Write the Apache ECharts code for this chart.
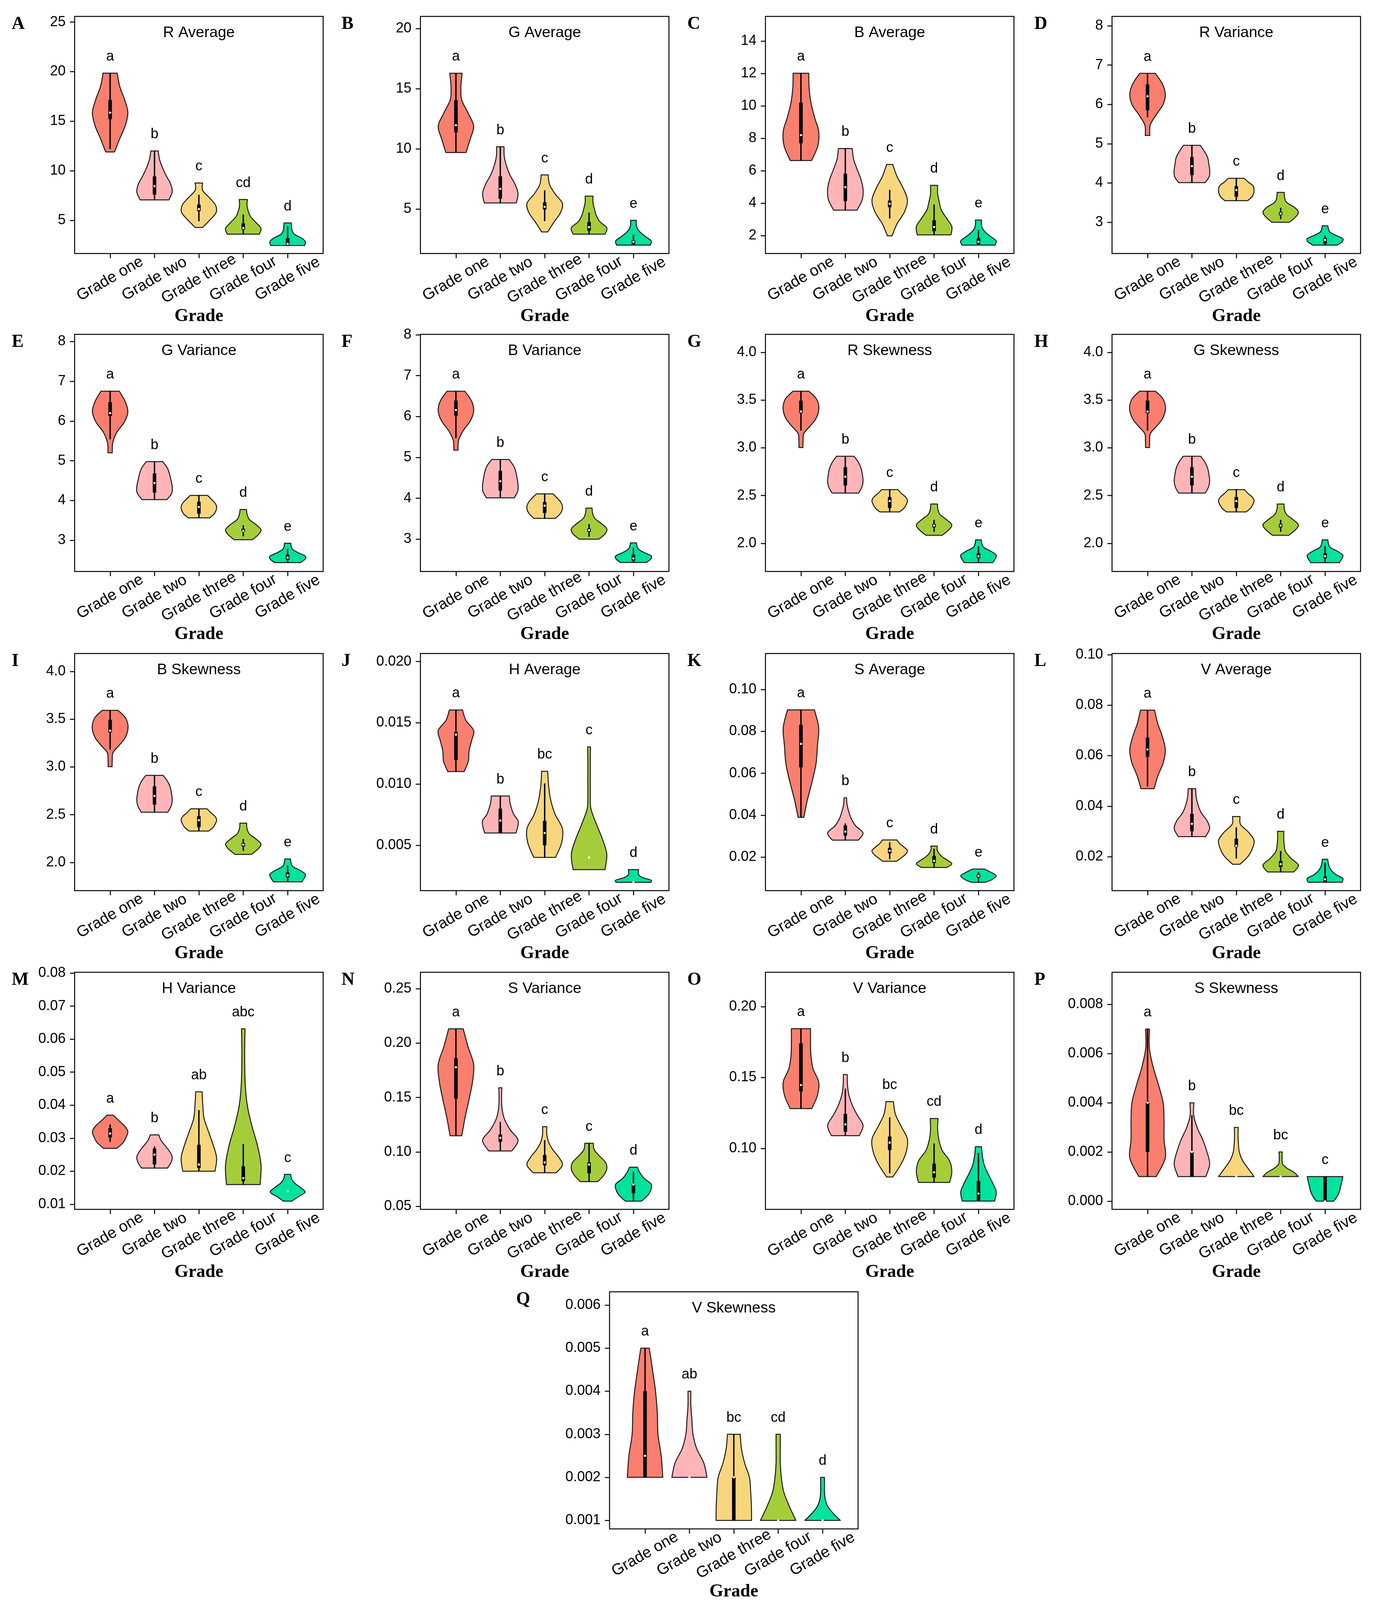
<!DOCTYPE html>
<html>
<head>
<meta charset="utf-8">
<title>Grade violin plots</title>
<script src="https://cdn.jsdelivr.net/npm/echarts@6/dist/echarts.min.js"></script>
<style>
  html, body { margin: 0; padding: 0; background: #fff; }
  #chart { width: 3519px; height: 4130px; }
</style>
</head>
<body>
<div id="chart"></div>
<script>
/**
 * 17 个小提琴图面板（A–Q），按年级分组
 * 每个小提琴：span = [下端, 上端]，shape = 等间距高度处的相对半宽，box = [须下, Q1, 中位数, Q3, 须上]
 */

const GRADES = ['Grade one', 'Grade two', 'Grade three', 'Grade four', 'Grade five']
const GRADE_COLORS = ['#FA7F6E', '#FFB5B8', '#F8D67E', '#A5CD3A', '#00E29E']

const PANEL_LETTERS = ['A', 'B', 'C', 'D', 'E', 'F', 'G', 'H', 'I', 'J', 'K', 'L', 'M', 'N', 'O', 'P', 'Q']
const PANEL_TITLES = [
  'R Average', 'G Average', 'B Average', 'R Variance',
  'G Variance', 'B Variance', 'R Skewness', 'G Skewness',
  'B Skewness', 'H Average', 'S Average', 'V Average',
  'H Variance', 'S Variance', 'V Variance', 'S Skewness',
  'V Skewness'
]

const Y_RANGES = [
  [1.65, 25.58], [1.30, 21.0], [0.89, 15.53], [2.205, 8.24],
  [2.216, 8.18], [2.21, 8.01], [1.706, 4.187], [1.706, 4.187],
  [1.706, 4.187], [0.001293, 0.02066], [0.00396, 0.1172], [0.006539, 0.10048],
  [0.00846, 0.08024], [0.04727, 0.2651], [0.057, 0.2242], [-0.000334, 0.00931],
  [0.000802, 0.00631]
]

const Y_TICKS = [
  ['5', '10', '15', '20', '25'],
  ['5', '10', '15', '20'],
  ['2', '4', '6', '8', '10', '12', '14'],
  ['3', '4', '5', '6', '7', '8'],
  ['3', '4', '5', '6', '7', '8'],
  ['3', '4', '5', '6', '7', '8'],
  ['2.0', '2.5', '3.0', '3.5', '4.0'],
  ['2.0', '2.5', '3.0', '3.5', '4.0'],
  ['2.0', '2.5', '3.0', '3.5', '4.0'],
  ['0.005', '0.010', '0.015', '0.020'],
  ['0.02', '0.04', '0.06', '0.08', '0.10'],
  ['0.02', '0.04', '0.06', '0.08', '0.10'],
  ['0.01', '0.02', '0.03', '0.04', '0.05', '0.06', '0.07', '0.08'],
  ['0.05', '0.10', '0.15', '0.20', '0.25'],
  ['0.10', '0.15', '0.20'],
  ['0.000', '0.002', '0.004', '0.006', '0.008'],
  ['0.001', '0.002', '0.003', '0.004', '0.005', '0.006']
]

const SIG_LETTERS = [
  ['a', 'b', 'c', 'cd', 'd'],
  ['a', 'b', 'c', 'd', 'e'],
  ['a', 'b', 'c', 'd', 'e'],
  ['a', 'b', 'c', 'd', 'e'],
  ['a', 'b', 'c', 'd', 'e'],
  ['a', 'b', 'c', 'd', 'e'],
  ['a', 'b', 'c', 'd', 'e'],
  ['a', 'b', 'c', 'd', 'e'],
  ['a', 'b', 'c', 'd', 'e'],
  ['a', 'b', 'bc', 'c', 'd'],
  ['a', 'b', 'c', 'd', 'e'],
  ['a', 'b', 'c', 'd', 'e'],
  ['a', 'b', 'ab', 'abc', 'c'],
  ['a', 'b', 'c', 'c', 'd'],
  ['a', 'b', 'bc', 'cd', 'd'],
  ['a', 'b', 'bc', 'bc', 'c'],
  ['a', 'ab', 'bc', 'cd', 'd']
]

// A  R Average
const spansA = [[11.9, 19.85], [7.06, 12.0], [4.28, 8.77], [3.6, 7.1], [2.46, 4.73]]
const shapesA = [
  [0.25, 0.54, 0.85, 1.0, 0.81, 0.54, 0.4],
  [0.81, 1.0, 0.9, 0.65, 0.44, 0.28, 0.21],
  [0.21, 0.62, 0.97, 0.94, 0.6, 0.21, 0.21],
  [0.9, 1.0, 0.72, 0.42, 0.28, 0.21, 0.23],
  [0.95, 1.0, 0.78, 0.38, 0.25, 0.22, 0.2]
]
const boxesA = [[12.2, 15.2, 15.87, 17.16, 19.85], [7.06, 7.58, 8.44, 9.43, 12.0], [4.9, 5.93, 6.13, 6.59, 7.58], [3.6, 4.07, 4.22, 4.69, 5.58], [2.46, 2.53, 2.63, 3.19, 4.39]]

// B  G Average
const spansB = [[9.69, 16.28], [5.5, 10.17], [3.09, 7.83], [2.91, 6.07], [2.0, 4.06]]
const shapesB = [
  [0.57, 0.8, 1.0, 0.68, 0.32, 0.28, 0.35],
  [0.9, 1.0, 0.83, 0.54, 0.34, 0.22, 0.21],
  [0.17, 0.51, 0.88, 1.0, 0.59, 0.27, 0.2],
  [0.9, 1.0, 0.6, 0.4, 0.3, 0.22, 0.22],
  [0.95, 1.0, 0.7, 0.41, 0.22, 0.16, 0.16]
]
const boxesB = [[9.69, 11.36, 11.96, 14.04, 16.28], [5.5, 5.85, 6.67, 7.71, 10.17], [3.99, 4.95, 5.18, 5.55, 6.55], [2.91, 3.19, 3.5, 3.91, 4.71], [2.0, 2.05, 2.27, 2.39, 2.87]]

// C  B Average
const spansC = [[6.63, 12.02], [3.57, 7.37], [1.98, 6.39], [2.04, 5.1], [1.41, 2.96]]
const shapesC = [
  [0.6, 0.95, 1.0, 0.76, 0.56, 0.46, 0.44],
  [0.66, 0.95, 1.0, 0.88, 0.66, 0.46, 0.39],
  [0.13, 0.41, 0.83, 1.0, 0.76, 0.41, 0.17],
  [0.95, 1.0, 0.71, 0.41, 0.29, 0.2, 0.2],
  [0.93, 1.0, 0.7, 0.41, 0.22, 0.17, 0.17]
]
const boxesC = [[6.63, 7.7, 8.2, 10.21, 12.02], [3.57, 4.13, 4.99, 5.82, 7.37], [3.05, 3.75, 3.96, 4.16, 4.82], [2.04, 2.27, 2.53, 2.94, 3.92], [1.41, 1.45, 1.61, 1.83, 2.33]]

// D  R Variance
const spansD = [[5.21, 6.79], [4.01, 4.96], [3.55, 4.12], [3.0, 3.76], [2.42, 2.91]]
const shapesD = [
  [0.13, 0.15, 0.49, 0.88, 1.0, 0.83, 0.44],
  [0.75, 0.98, 1.0, 0.95, 0.89, 0.71, 0.47],
  [0.64, 0.88, 0.98, 1.0, 0.94, 0.67, 0.45],
  [0.49, 0.82, 1.0, 0.78, 0.34, 0.22, 0.2],
  [0.69, 0.96, 1.0, 0.62, 0.28, 0.19, 0.16]
]
const boxesD = [[5.67, 5.85, 6.21, 6.51, 6.79], [4.01, 4.2, 4.43, 4.66, 4.96], [3.55, 3.65, 3.82, 3.92, 4.12], [3.08, 3.18, 3.22, 3.26, 3.37], [2.42, 2.45, 2.55, 2.6, 2.66]]

// E  G Variance
const spansE = [[5.2, 6.75], [4.025, 4.98], [3.565, 4.13], [3.015, 3.775], [2.44, 2.925]]
const shapesE = [
  [0.12, 0.15, 0.38, 0.8, 1.0, 0.85, 0.52],
  [0.7, 0.97, 1.0, 0.93, 0.85, 0.72, 0.46],
  [0.6, 0.85, 0.97, 1.0, 0.9, 0.7, 0.49],
  [0.51, 0.85, 1.0, 0.72, 0.35, 0.22, 0.18],
  [0.73, 0.97, 1.0, 0.62, 0.3, 0.2, 0.18]
]
const boxesE = [[5.54, 6.125, 6.2, 6.48, 6.75], [4.025, 4.2, 4.44, 4.68, 4.98], [3.565, 3.67, 3.84, 3.97, 4.13], [3.1, 3.215, 3.24, 3.29, 3.38], [2.44, 2.515, 2.565, 2.64, 2.79]]

// F  B Variance
const spansF = [[5.18, 6.62], [4.01, 4.95], [3.51, 4.11], [3.0, 3.76], [2.43, 2.91]]
const shapesF = [
  [0.12, 0.15, 0.42, 0.82, 1.0, 0.88, 0.5],
  [0.78, 0.98, 1.0, 0.95, 0.88, 0.75, 0.49],
  [0.61, 0.85, 0.98, 1.0, 0.9, 0.7, 0.46],
  [0.55, 0.9, 1.0, 0.7, 0.33, 0.2, 0.17],
  [0.73, 0.97, 1.0, 0.62, 0.3, 0.2, 0.17]
]
const boxesF = [[5.47, 6.02, 6.16, 6.39, 6.62], [4.01, 4.19, 4.42, 4.67, 4.95], [3.51, 3.64, 3.82, 3.91, 4.11], [3.06, 3.18, 3.22, 3.26, 3.37], [2.43, 2.47, 2.53, 2.62, 2.79]]

// G  R Skewness
const spansG = [[3.003, 3.592], [2.527, 2.912], [2.329, 2.562], [2.085, 2.412], [1.798, 2.037]]
const shapesG = [
  [0.11, 0.12, 0.16, 0.5, 0.82, 0.98, 1.0, 0.85, 0.45],
  [0.75, 0.94, 1.0, 0.96, 0.89, 0.74, 0.49],
  [0.55, 0.8, 0.93, 1.0, 0.9, 0.66, 0.46],
  [0.46, 0.82, 1.0, 0.7, 0.33, 0.21, 0.19],
  [0.8, 0.94, 1.0, 0.7, 0.3, 0.19, 0.16]
]
const boxesG = [[3.18, 3.363, 3.38, 3.494, 3.592], [2.527, 2.606, 2.697, 2.797, 2.912], [2.329, 2.37, 2.443, 2.485, 2.562], [2.121, 2.168, 2.187, 2.204, 2.246], [1.798, 1.844, 1.865, 1.898, 1.969]]

// H  G Skewness
const spansH = [[3.003, 3.592], [2.527, 2.912], [2.329, 2.562], [2.085, 2.412], [1.798, 2.037]]
const shapesH = [
  [0.11, 0.12, 0.16, 0.5, 0.82, 0.98, 1.0, 0.85, 0.45],
  [0.75, 0.94, 1.0, 0.96, 0.89, 0.74, 0.49],
  [0.55, 0.8, 0.93, 1.0, 0.9, 0.66, 0.46],
  [0.46, 0.82, 1.0, 0.7, 0.33, 0.21, 0.19],
  [0.8, 0.94, 1.0, 0.7, 0.3, 0.19, 0.16]
]
const boxesH = [[3.18, 3.363, 3.38, 3.494, 3.592], [2.527, 2.606, 2.697, 2.797, 2.912], [2.329, 2.37, 2.443, 2.485, 2.562], [2.121, 2.168, 2.187, 2.204, 2.246], [1.798, 1.844, 1.865, 1.898, 1.969]]

// I  B Skewness
const spansI = [[3.003, 3.592], [2.527, 2.912], [2.329, 2.562], [2.085, 2.412], [1.798, 2.037]]
const shapesI = [
  [0.11, 0.12, 0.16, 0.5, 0.82, 0.98, 1.0, 0.85, 0.45],
  [0.75, 0.94, 1.0, 0.96, 0.89, 0.74, 0.49],
  [0.55, 0.8, 0.93, 1.0, 0.9, 0.66, 0.46],
  [0.46, 0.82, 1.0, 0.7, 0.33, 0.21, 0.19],
  [0.8, 0.94, 1.0, 0.7, 0.3, 0.19, 0.16]
]
const boxesI = [[3.18, 3.363, 3.38, 3.494, 3.592], [2.527, 2.606, 2.697, 2.797, 2.912], [2.329, 2.37, 2.443, 2.485, 2.562], [2.121, 2.168, 2.187, 2.204, 2.246], [1.798, 1.844, 1.865, 1.898, 1.969]]

// J  H Average
const spansJ = [[0.011015, 0.016048], [0.006, 0.009024], [0.004006, 0.011043], [0.003011, 0.013034], [0.001973, 0.003011]]
const shapesJ = [
  [0.46, 0.7, 0.74, 0.88, 1.0, 0.56, 0.37],
  [0.88, 0.98, 1.0, 0.76, 0.63, 0.54, 0.51],
  [0.61, 0.95, 1.0, 0.59, 0.34, 0.22, 0.17],
  [0.9, 1.0, 0.75, 0.4, 0.1, 0.07, 0.07, 0.07, 0.08],
  [0.98, 1.0, 0.6, 0.35, 0.27, 0.27, 0.29]
]
const boxesJ = [[0.011015, 0.01197, 0.01403, 0.01427, 0.016048], [0.006, 0.006, 0.00702, 0.007987, 0.009024], [0.004006, 0.005, 0.006, 0.006991, 0.01005], [0.004, 0.004, 0.004, 0.004, 0.004], [0.002, 0.002, 0.002, 0.002, 0.002]]

// K  S Average
const spansK = [[0.03896, 0.09027], [0.02807, 0.04827], [0.018, 0.02815], [0.01501, 0.02524], [0.00794, 0.01426]]
const shapesK = [
  [0.16, 0.37, 0.63, 0.85, 0.93, 1.0, 0.76],
  [0.73, 1.0, 0.59, 0.34, 0.2, 0.1, 0.07],
  [0.39, 0.66, 0.9, 1.0, 0.8, 0.56, 0.41],
  [0.71, 1.0, 0.76, 0.46, 0.27, 0.17, 0.18],
  [0.39, 0.71, 0.9, 1.0, 0.83, 0.59, 0.34]
]
const boxesK = [[0.03896, 0.06283, 0.07405, 0.0832, 0.09027], [0.02807, 0.03023, 0.03214, 0.03505, 0.03605], [0.019, 0.02175, 0.023, 0.02441, 0.02707], [0.01526, 0.01725, 0.01817, 0.02058, 0.024], [0.0082, 0.01026, 0.01098, 0.01181, 0.0128]]

// L  V Average
const spansL = [[0.04695, 0.07803], [0.02795, 0.04695], [0.017, 0.03589], [0.01393, 0.03002], [0.00985, 0.01897]]
const shapesL = [
  [0.37, 0.59, 0.89, 1.0, 0.83, 0.57, 0.4],
  [0.77, 1.0, 0.85, 0.52, 0.34, 0.24, 0.21],
  [0.21, 0.67, 0.91, 1.0, 0.7, 0.24, 0.21],
  [0.74, 1.0, 0.59, 0.28, 0.2, 0.17, 0.18],
  [0.96, 1.0, 0.61, 0.37, 0.24, 0.18, 0.15]
]
const boxesL = [[0.04778, 0.05952, 0.06249, 0.06719, 0.07803], [0.02795, 0.03002, 0.033, 0.03693, 0.04695], [0.01931, 0.02381, 0.02429, 0.02712, 0.03161], [0.01393, 0.01586, 0.01704, 0.01828, 0.02222], [0.00985, 0.00985, 0.01103, 0.01218, 0.01759]]

// M  H Variance
const spansM = [[0.02695, 0.03698], [0.02098, 0.03101], [0.02003, 0.04405], [0.01597, 0.06311], [0.01095, 0.01903]]
const shapesM = [
  [0.38, 0.73, 0.9, 1.0, 0.83, 0.49, 0.18],
  [0.73, 0.93, 1.0, 0.85, 0.61, 0.37, 0.24],
  [0.91, 1.0, 0.8, 0.54, 0.29, 0.22, 0.18],
  [0.95, 1.0, 0.8, 0.49, 0.24, 0.12, 0.085, 0.08, 0.1],
  [0.24, 0.6, 0.98, 0.75, 0.41, 0.22, 0.18]
]
const boxesM = [[0.0289, 0.03022, 0.03143, 0.03302, 0.03418], [0.02098, 0.02204, 0.02505, 0.02689, 0.0275], [0.02003, 0.02098, 0.02204, 0.028, 0.03851], [0.01597, 0.01702, 0.01792, 0.02151, 0.02827], [0.01396, 0.01396, 0.01396, 0.01396, 0.01396]]

// N  S Variance
const spansN = [[0.1149, 0.21314], [0.10096, 0.15897], [0.08093, 0.12324], [0.07275, 0.10801], [0.0548, 0.08605]]
const shapesN = [
  [0.33, 0.51, 0.73, 0.93, 1.0, 0.68, 0.41],
  [0.65, 1.0, 0.56, 0.24, 0.1, 0.07, 0.085],
  [0.65, 1.0, 0.8, 0.46, 0.22, 0.12, 0.12],
  [0.49, 0.83, 1.0, 0.93, 0.59, 0.29, 0.24],
  [0.45, 0.8, 0.98, 1.0, 0.61, 0.37, 0.22]
]
const boxesN = [[0.1149, 0.14904, 0.17788, 0.18622, 0.21314], [0.10096, 0.1093, 0.11298, 0.116, 0.12772], [0.08093, 0.08766, 0.09038, 0.09727, 0.1109], [0.07275, 0.08045, 0.08846, 0.09038, 0.10801], [0.0548, 0.06201, 0.07, 0.07003, 0.08205]]

// O  V Variance
const spansO = [[0.12805, 0.18438], [0.10898, 0.15203], [0.07983, 0.13297], [0.07602, 0.12103], [0.06286, 0.10123]]
const shapesO = [
  [0.61, 0.93, 1.0, 0.68, 0.56, 0.54, 0.54],
  [0.79, 1.0, 0.68, 0.39, 0.2, 0.12, 0.11],
  [0.17, 0.63, 0.93, 1.0, 0.66, 0.32, 0.21],
  [0.88, 1.0, 0.88, 0.46, 0.27, 0.2, 0.22],
  [0.91, 1.0, 0.8, 0.54, 0.32, 0.22, 0.17]
]
const boxesO = [[0.12805, 0.1401, 0.14465, 0.17417, 0.18438], [0.10898, 0.11169, 0.11698, 0.12436, 0.14219], [0.08254, 0.09877, 0.10406, 0.10837, 0.1219], [0.07602, 0.07946, 0.08315, 0.0893, 0.10345], [0.06286, 0.06347, 0.06814, 0.077, 0.09668]]

// P  S Skewness
const spansP = [[0.001, 0.007], [0.001, 0.004], [0.001, 0.003], [0.001, 0.002], [0.0, 0.001]]
const shapesP = [
  [0.49, 1.0, 0.93, 0.93, 0.88, 0.61, 0.3, 0.1, 0.11],
  [0.78, 1.0, 0.85, 0.61, 0.29, 0.1, 0.11],
  [1.0, 0.66, 0.34, 0.17, 0.12, 0.1, 0.11],
  [1.0, 0.76, 0.37, 0.12, 0.08, 0.08, 0.09],
  [0.49, 0.66, 0.78, 0.85, 0.9, 0.96, 1.0]
]
const boxesP = [[0.001, 0.002, 0.004, 0.004, 0.007], [0.001, 0.001, 0.002, 0.002, 0.0035], [0.001, 0.001, 0.001, 0.001, 0.001], [0.001, 0.001, 0.001, 0.001, 0.001], [0.0, 0.0, 0.0, 0.001, 0.001]]

// Q  V Skewness
const spansQ = [[0.002, 0.005], [0.002, 0.004], [0.001, 0.003], [0.001, 0.003], [0.001, 0.002]]
const shapesQ = [
  [1.0, 0.91, 0.73, 0.69, 0.59, 0.42, 0.24],
  [0.99, 0.81, 0.41, 0.2, 0.14, 0.08, 0.08],
  [1.0, 0.99, 0.95, 0.88, 0.61, 0.43, 0.36],
  [1.0, 0.62, 0.31, 0.18, 0.12, 0.12, 0.12],
  [1.0, 0.59, 0.28, 0.15, 0.11, 0.11, 0.11]
]
const boxesQ = [[0.002, 0.002, 0.0025, 0.004, 0.005], [0.002, 0.002, 0.002, 0.002, 0.002], [0.001, 0.001, 0.002, 0.002, 0.003], [0.001, 0.001, 0.001, 0.001, 0.001], [0.001, 0.001, 0.001, 0.001, 0.001]]

const SPANS = [spansA, spansB, spansC, spansD, spansE, spansF, spansG, spansH, spansI, spansJ, spansK, spansL, spansM, spansN, spansO, spansP, spansQ]
const SHAPES = [shapesA, shapesB, shapesC, shapesD, shapesE, shapesF, shapesG, shapesH, shapesI, shapesJ, shapesK, shapesL, shapesM, shapesN, shapesO, shapesP, shapesQ]
const BOXES = [boxesA, boxesB, boxesC, boxesD, boxesE, boxesF, boxesG, boxesH, boxesI, boxesJ, boxesK, boxesL, boxesM, boxesN, boxesO, boxesP, boxesQ]

// 版面（像素）
const COL_LEFT = [191, 1076, 1959, 2846]
const ROW_TOP = [42, 856, 1673, 2489]
const LETTER_X = [30, 874, 1759, 2647]
const BOX_W = 636
const BOX_H = 607
const Q_LEFT = 1560
const Q_TOP = 3307
const Q_LETTER_X = 1321

const SANS = 'Arial, "Liberation Sans", sans-serif'
const SERIF = '"Times New Roman", "Liberation Serif", serif'
const VIOLIN_HALF = 0.4

/** 面板位置 */
function panelBox(i) {
  if (i === 16) return { left: Q_LEFT, top: Q_TOP, letterX: Q_LETTER_X }
  return { left: COL_LEFT[i % 4], top: ROW_TOP[Math.floor(i / 4)], letterX: LETTER_X[i % 4] }
}

/** Catmull-Rom 转三次贝塞尔，画小提琴一侧的轮廓 */
function sideCurve(pts) {
  let d = ''
  for (let k = 0; k < pts.length - 1; k++) {
    const p0 = pts[Math.max(k - 1, 0)]
    const p1 = pts[k]
    const p2 = pts[k + 1]
    const p3 = pts[Math.min(k + 2, pts.length - 1)]
    const c1x = p1[0] + (p2[0] - p0[0]) / 6
    const c1y = p1[1] + (p2[1] - p0[1]) / 6
    const c2x = p2[0] - (p3[0] - p1[0]) / 6
    const c2y = p2[1] - (p3[1] - p1[1]) / 6
    d += ' C' + c1x.toFixed(2) + ',' + c1y.toFixed(2) + ' ' + c2x.toFixed(2) + ',' + c2y.toFixed(2) + ' ' + p2[0].toFixed(2) + ',' + p2[1].toFixed(2)
  }
  return d
}

/** 每个面板的 renderItem */
function makeViolinRenderer(panelIndex) {
  const spans = SPANS[panelIndex]
  const shapes = SHAPES[panelIndex]
  const boxes = BOXES[panelIndex]
  const sig = SIG_LETTERS[panelIndex]

  return function (params, api) {
    const g = api.value(0)
    const span = spans[g]
    const shape = shapes[g]
    const box = boxes[g]
    const n = shape.length

    const base = api.coord([g, span[0]])
    const cx = base[0]
    const half = api.coord([g + VIOLIN_HALF, span[0]])[0] - cx

    const right = []
    const left = []
    for (let k = 0; k < n; k++) {
      const level = span[0] + (span[1] - span[0]) * k / (n - 1)
      const y = api.coord([g, level])[1]
      right.push([cx + half * shape[k], y])
      left.push([cx - half * shape[k], y])
    }
    left.reverse()

    const d = 'M' + right[0][0].toFixed(2) + ',' + right[0][1].toFixed(2) +
      sideCurve(right) +
      ' L' + left[0][0].toFixed(2) + ',' + left[0][1].toFixed(2) +
      sideCurve(left) + ' Z'

    const children = [{
      type: 'path',
      shape: { pathData: d },
      style: { fill: GRADE_COLORS[g], stroke: '#1a1a1a', lineWidth: 2.5, lineJoin: 'round' }
    }]

    const yLo = api.coord([g, box[0]])[1]
    const yQ1 = api.coord([g, box[1]])[1]
    const yMed = api.coord([g, box[2]])[1]
    const yQ3 = api.coord([g, box[3]])[1]
    const yHi = api.coord([g, box[4]])[1]

    if (box[4] > box[0]) {
      children.push({
        type: 'line',
        shape: { x1: cx, y1: yLo, x2: cx, y2: yHi },
        style: { stroke: '#000', lineWidth: 3.5 }
      })
    }
    if (box[3] > box[1]) {
      children.push({
        type: 'rect',
        shape: { x: cx - 4.5, y: yQ3, width: 9, height: yQ1 - yQ3 },
        style: { fill: '#000' }
      })
    }
    children.push({
      type: 'circle',
      shape: { cx: cx, cy: yMed, r: 2.8 },
      style: { fill: '#fff' }
    })

    const yTop = api.coord([g, span[1]])[1]
    children.push({
      type: 'text',
      x: cx,
      y: yTop - 42,
      style: {
        text: sig[g],
        fontSize: 36,
        fontFamily: SANS,
        fill: '#000',
        align: 'center',
        verticalAlign: 'middle'
      }
    })

    return { type: 'group', children: children }
  }
}

const grids = []
const xAxes = []
const yAxes = []
const series = []
const texts = []

PANEL_TITLES.forEach(function (title, i) {
  const pos = panelBox(i)
  const tickNums = Y_TICKS[i].map(Number)

  grids.push({
    left: pos.left,
    top: pos.top,
    width: BOX_W,
    height: BOX_H,
    show: true,
    backgroundColor: '#fff',
    borderColor: '#000',
    borderWidth: 2.5,
    containLabel: false,
    outerBoundsMode: 'none'
  })

  xAxes.push({
    gridIndex: i,
    type: 'value',
    position: 'bottom',
    min: -0.8,
    max: 4.8,
    name: 'Grade',
    nameLocation: 'middle',
    nameGap: 136,
    nameTextStyle: { fontFamily: SERIF, fontWeight: 'bold', fontSize: 46, color: '#000' },
    axisLine: { show: false, onZero: false },
    splitLine: { show: false },
    axisTick: {
      show: true,
      customValues: [0, 1, 2, 3, 4],
      length: 12,
      lineStyle: { color: '#000', width: 2.5 }
    },
    axisLabel: {
      show: true,
      customValues: [0, 1, 2, 3, 4],
      formatter: function (v) { return GRADES[Math.round(v)] },
      rotate: 30,
      align: 'center',
      verticalAlign: 'middle',
      margin: 65,
      fontSize: 40,
      fontFamily: SANS,
      color: '#000'
    }
  })

  yAxes.push({
    gridIndex: i,
    type: 'value',
    position: 'left',
    min: Y_RANGES[i][0],
    max: Y_RANGES[i][1],
    axisLine: { show: false, onZero: false },
    splitLine: { show: false },
    axisTick: {
      show: true,
      customValues: tickNums,
      length: 12,
      lineStyle: { color: '#000', width: 2.5 }
    },
    axisLabel: {
      show: true,
      customValues: tickNums,
      formatter: function (v) {
        const k = tickNums.findIndex(function (t) { return Math.abs(t - v) <= Math.abs(t) * 1e-6 + 1e-12 })
        return k >= 0 ? Y_TICKS[i][k] : ''
      },
      margin: 23,
      fontSize: 36,
      fontFamily: SANS,
      color: '#000'
    }
  })

  series.push({
    type: 'custom',
    xAxisIndex: i,
    yAxisIndex: i,
    coordinateSystem: 'cartesian2d',
    clip: false,
    silent: true,
    data: [[0], [1], [2], [3], [4]],
    renderItem: makeViolinRenderer(i)
  })

  texts.push({
    type: 'text',
    x: pos.left + BOX_W / 2,
    y: pos.top + 42,
    style: { text: title, fontSize: 39, fontFamily: SANS, fill: '#000', align: 'center', verticalAlign: 'middle' }
  })
  texts.push({
    type: 'text',
    x: pos.letterX,
    y: pos.top + 20,
    style: { text: PANEL_LETTERS[i], fontSize: 46, fontWeight: 'bold', fontFamily: SERIF, fill: '#000', align: 'left', verticalAlign: 'middle' }
  })
})

const chart = echarts.init(document.getElementById('chart'), null, { renderer: 'canvas' })
chart.setOption({
  backgroundColor: '#fff',
  animation: false,
  grid: grids,
  xAxis: xAxes,
  yAxis: yAxes,
  series: series,
  graphic: { elements: texts }
})
</script>
</body>
</html>
